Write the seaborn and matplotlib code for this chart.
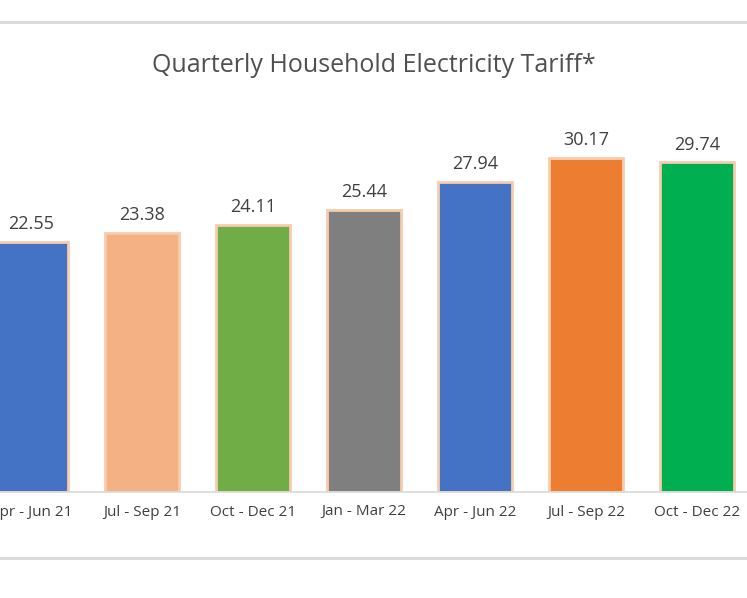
import matplotlib
matplotlib.use("Agg")
import matplotlib.pyplot as plt
import seaborn as sns
import pandas as pd

quarters = ["Apr - Jun 21", "Jul - Sep 21", "Oct - Dec 21", "Jan - Mar 22",
            "Apr - Jun 22", "Jul - Sep 22", "Oct - Dec 22"]
tariff = [22.55, 23.38, 24.11, 25.44, 27.94, 30.17, 29.74]
colors = ["#4472C4", "#F4B183", "#70AD47", "#7F7F7F", "#4472C4", "#ED7D31", "#00B050"]

df = pd.DataFrame({"quarter": quarters, "tariff": tariff})

sns.set_theme(style="white")
plt.rcParams["font.family"] = ["Open Sans", "DejaVu Sans"]
TXT = "#404040"

fig = plt.figure(figsize=(7.47, 5.98), dpi=100)
ax = fig.add_axes([0, 106 / 598, 1, 399 / 598])

sns.barplot(data=df, x="quarter", y="tariff", hue="quarter", palette=colors,
            legend=False, width=0.667, edgecolor="#F8CBAD", linewidth=2,
            saturation=1, ax=ax)

for i, v in enumerate(tariff):
    ax.text(i, v + 0.8, f"{v:.2f}", ha="center", va="bottom", fontsize=13, color=TXT)

ax.set_xlim(-0.279, 6.451)
ax.set_ylim(0, 36)
ax.set_xlabel("")
ax.set_ylabel("")
ax.set_yticks([])
ax.tick_params(axis="x", length=0, labelsize=11, labelcolor=TXT, pad=9)
for s in ["top", "left", "right"]:
    ax.spines[s].set_visible(False)
ax.spines["bottom"].set_color("#D9D9D9")
ax.spines["bottom"].set_linewidth(1.2)

fig.text(0.5, 1 - 65 / 598, "Quarterly Household Electricity Tariff*", ha="center",
         va="center", fontsize=18, color="#505050")

for yy in [22, 558]:
    fig.add_artist(plt.Line2D([0, 1], [1 - yy / 598] * 2, color="#D9D9D9", lw=2,
                              transform=fig.transFigure))

fig.savefig("out.png", dpi=100)
